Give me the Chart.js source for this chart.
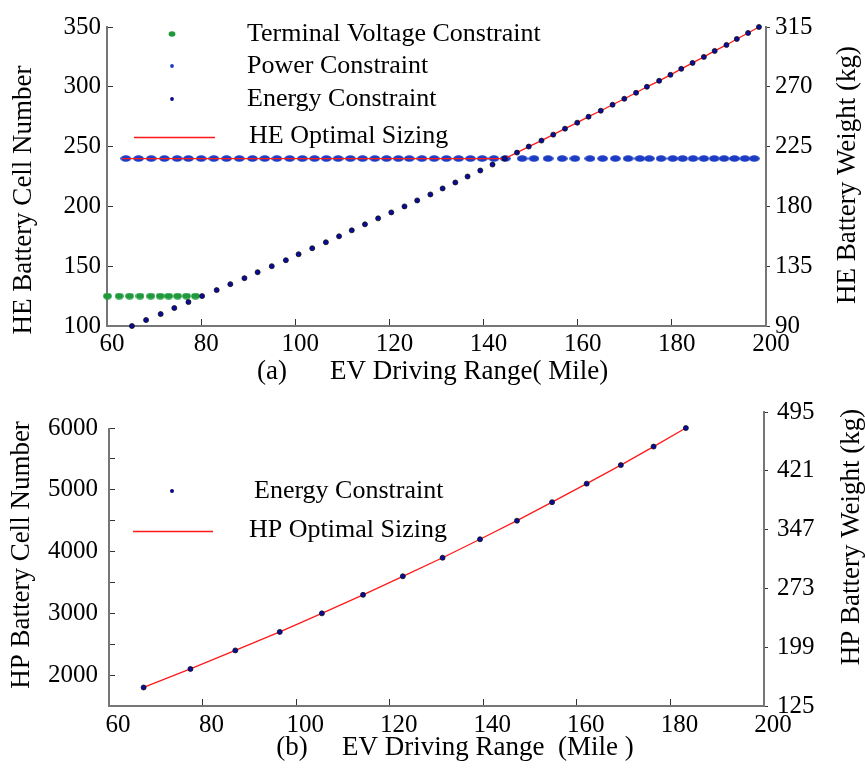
<!DOCTYPE html>
<html>
<head>
<meta charset="utf-8">
<script src="https://cdn.jsdelivr.net/npm/chart.js@4.4.1/dist/chart.umd.min.js"></script>
<style>
  html, body { margin: 0; padding: 0; background: #fff; }
  #wrap { position: relative; width: 865px; height: 770px; }
  canvas { position: absolute; left: 0; }
  #heChart { top: 0; }
  #hpChart { top: 380px; }
</style>
</head>
<body>
<div id="wrap">
  <canvas id="heChart" width="865" height="390"></canvas>
  <canvas id="hpChart" width="865" height="390"></canvas>
</div>
<script>
// ---- (a) HE battery ----
const heVoltageRange = [60.1, 62.6, 64.8, 67.0, 69.3, 71.3, 73.1, 75.0, 76.9, 78.8];
const heVoltageCells = [125, 125, 125, 125, 125, 125, 125, 125, 125, 125];

const hePowerRange = [64.0, 66.7, 69.4, 72.2, 74.9, 77.3, 80.0, 82.7, 85.4, 88.1,
  90.9, 93.5, 96.1, 98.8, 101.5, 104.1, 106.6, 109.1, 111.7, 114.3,
  116.9, 119.4, 121.9, 124.2, 126.9, 129.5, 132.1, 134.7, 137.2, 139.7,
  142.2, 144.6, 148.2, 150.7, 153.7, 156.7, 159.4, 162.6, 165.3, 168.0,
  170.7, 173.2, 175.2, 177.7, 180.2, 182.3, 184.5, 186.8, 189.0, 191.1,
  193.3, 195.5, 197.5];
const hePowerCells = [240, 240, 240, 240, 240, 240, 240, 240, 240, 240,
  240, 240, 240, 240, 240, 240, 240, 240, 240, 240,
  240, 240, 240, 240, 240, 240, 240, 240, 240, 240,
  240, 240, 240, 240, 240, 240, 240, 240, 240, 240,
  240, 240, 240, 240, 240, 240, 240, 240, 240, 240,
  240, 240, 240];

const heEnergyRange = [65.3, 68.3, 71.4, 74.3, 77.3, 80.2, 83.3, 86.2, 89.2, 92.0,
  95.0, 98.0, 100.7, 103.6, 106.5, 109.3, 112.0, 114.8, 117.6, 120.4,
  123.2, 125.9, 128.7, 131.3, 134.0, 136.6, 139.3, 141.9, 144.5, 147.1,
  149.6, 152.3, 154.8, 157.3, 159.9, 162.3, 164.9, 167.4, 169.9, 172.4,
  174.7, 177.3, 179.7, 182.0, 184.4, 186.8, 189.1, 191.6, 193.8, 196.2, 198.5];
const heEnergyCells = [100, 105, 110, 115, 120, 125, 130, 135, 140, 145,
  150, 155, 160, 165, 170, 175, 180, 185, 190, 195,
  200, 205, 210, 215, 220, 225, 230, 235, 240, 245,
  250, 255, 260, 265, 270, 275, 280, 285, 290, 295,
  300, 305, 310, 315, 320, 325, 330, 335, 340, 345, 350];

// optimal sizing: flat at the power limit, then follows the energy limit
const heOptimalStart = { range: 63.2, cells: 240 };

const heRangeTicks = [60, 80, 100, 120, 140, 160, 180, 200];
const heCellTicks = [100, 150, 200, 250, 300, 350];
const heWeightTicks = [90, 135, 180, 225, 270, 315];

// ---- (b) HP battery ----
const hpEnergyRange = [67.4, 77.4, 87.0, 96.5, 105.5, 114.3, 122.8, 131.3, 139.3, 147.2,
  154.7, 162.1, 169.4, 176.4, 183.3];
const hpEnergyCells = [1800, 2100, 2400, 2700, 3000, 3300, 3600, 3900, 4200, 4500,
  4800, 5100, 5400, 5700, 6000];

const hpRangeTicks = [60, 80, 100, 120, 140, 160, 180, 200];
const hpCellTicks = [2000, 2500, 3000, 3500, 4000, 4500, 5000, 5500, 6000];
const hpWeightTicks = [125, 199, 273, 347, 421, 495];

const serif = "'Liberation Serif', 'Times New Roman', serif";
Chart.defaults.font.family = serif;
Chart.defaults.color = '#000';

const AXIS_GREY = '#767676';

function pts(xs, ys) {
  return xs.map((x, i) => ({ x: x, y: ys[i] }));
}

// wide dot used by the constraint markers
function ellipseMarker(w, h, color) {
  const c = document.createElement('canvas');
  c.width = w;
  c.height = h;
  const g = c.getContext('2d');
  g.fillStyle = color;
  g.beginPath();
  g.ellipse(w / 2, h / 2, w / 2 - 0.2, h / 2 - 0.2, 0, 0, Math.PI * 2);
  g.fill();
  return c;
}

function fixedTicks(values) {
  return scale => { scale.ticks = values.map(v => ({ value: v })); };
}

function axis(opts) {
  return {
    type: 'linear',
    position: opts.position,
    min: opts.min,
    max: opts.max,
    afterBuildTicks: fixedTicks(opts.ticks),
    afterFit: scale => {
      if (opts.position === 'bottom') scale.height = opts.size;
      else scale.width = opts.size;
    },
    border: { display: opts.border !== false, color: AXIS_GREY, width: 2 },
    grid: {
      drawOnChartArea: false,
      drawTicks: true,
      tickLength: opts.tickLength,
      tickColor: '#333',
      lineWidth: 1,
    },
    ticks: {
      autoSkip: false,
      maxRotation: 0,
      padding: opts.padding,
      labelOffset: opts.labelOffset || 0,
      font: { size: 25 },
      callback: opts.format || (v => String(v)),
    },
  };
}

const decorations = {
  id: 'decorations',
  afterDraw(chart, args, opts) {
    const { ctx, chartArea: area } = chart;
    ctx.save();

    if (opts.stubAxis) {
      const y = chart.scales.y;
      ctx.strokeStyle = AXIS_GREY;
      ctx.lineWidth = 2;
      ctx.beginPath();
      ctx.moveTo(area.left, y.getPixelForValue(y.min) + 1);
      ctx.lineTo(area.left, y.getPixelForValue(opts.stubAxis));
      ctx.stroke();
    }

    // legend inside the plot
    const lg = opts.legend;
    ctx.font = lg.fontSize + 'px ' + serif;
    ctx.textBaseline = 'middle';
    ctx.textAlign = 'left';
    chart.data.datasets.forEach((ds, i) => {
      const y = area.top + lg.rows[i];
      if (ds.showLine) {
        ctx.strokeStyle = ds.borderColor;
        ctx.lineWidth = ds.borderWidth;
        ctx.beginPath();
        ctx.moveTo(area.left + lg.lineFrom, y + 1.5);
        ctx.lineTo(area.left + lg.lineTo, y + 1.5);
        ctx.stroke();
      } else {
        ctx.fillStyle = ds.legendColor;
        ctx.beginPath();
        ctx.ellipse(area.left + lg.markerX, y, ds.legendSize[0], ds.legendSize[1], 0, 0, Math.PI * 2);
        ctx.fill();
      }
      ctx.fillStyle = '#000';
      ctx.fillText(ds.label, area.left + lg.textX[i], y);
    });

    // axis titles
    ctx.font = opts.titleSize + 'px ' + serif;
    opts.titles.forEach(t => {
      ctx.save();
      ctx.translate(t.x, t.y);
      if (t.rotate) ctx.rotate(-Math.PI / 2);
      ctx.textAlign = t.align || 'center';
      ctx.textBaseline = 'middle';
      ctx.fillStyle = '#000';
      ctx.fillText(t.text, 0, 0);
      ctx.restore();
    });
    ctx.restore();
  },
};

const energyPoint = {
  pointRadius: 2.5,
  pointBackgroundColor: '#0a0a9c',
  pointBorderColor: '#111',
  pointBorderWidth: 0.8,
};

// ---- chart (a) ----
const heOptimal = [{ x: heOptimalStart.range, y: heOptimalStart.cells }]
  .concat(pts(heEnergyRange, heEnergyCells).filter(p => p.y >= heOptimalStart.cells));

new Chart(document.getElementById('heChart'), {
  type: 'scatter',
  data: {
    datasets: [
      {
        label: 'Terminal Voltage Constraint',
        data: pts(heVoltageRange, heVoltageCells),
        pointStyle: ellipseMarker(9, 7, '#1e9a3c'),
        pointRadius: 3,
        legendColor: '#1e9a3c',
        legendSize: [3.4, 2.8],
        clip: false,
        order: 2,
      },
      {
        label: 'Power Constraint',
        data: pts(hePowerRange, hePowerCells),
        pointStyle: ellipseMarker(11, 7, '#1c3cc4'),
        pointRadius: 3,
        legendColor: '#1c3cc4',
        legendSize: [1.9, 1.9],
        clip: false,
        order: 3,
      },
      Object.assign({
        label: 'Energy Constraint',
        data: pts(heEnergyRange, heEnergyCells),
        legendColor: '#0a0a80',
        legendSize: [1.9, 1.9],
        clip: false,
        order: 0,
      }, energyPoint),
      {
        label: 'HE Optimal Sizing',
        data: heOptimal,
        showLine: true,
        borderColor: '#ff1a1a',
        borderWidth: 1.3,
        pointRadius: 0,
        clip: false,
        order: 1,
      },
    ],
  },
  options: {
    responsive: false,
    animation: false,
    events: [],
    layout: { padding: { top: 16, left: 0, right: 0, bottom: 0 } },
    scales: {
      x: axis({ position: 'bottom', min: 60, max: 200, ticks: heRangeTicks, size: 64,
        tickLength: -7, padding: 10, labelOffset: 5 }),
      y: axis({ position: 'left', min: 100, max: 350, ticks: heCellTicks, size: 107,
        tickLength: -6, padding: 12 }),
      yWeight: axis({ position: 'right', min: 90, max: 315, ticks: heWeightTicks, size: 99,
        tickLength: 4, padding: 5 }),
    },
    plugins: {
      legend: { display: false },
      tooltip: { enabled: false },
      decorations: {
        legend: { fontSize: 26, markerX: 65, lineFrom: 27, lineTo: 108,
          rows: [7, 39, 72, 109], textX: [140, 140, 140, 142] },
        titleSize: 27,
        titles: [
          { text: 'HE Battery Cell Number', x: 24, y: 200, rotate: true },
          { text: 'HE Battery Weight (kg)', x: 848, y: 175, rotate: true },
          { text: '(a)', x: 272, y: 372 },
          { text: 'EV Driving Range( Mile)', x: 330, y: 372, align: 'left' },
        ],
      },
    },
  },
  plugins: [decorations],
});

// ---- chart (b) ----
new Chart(document.getElementById('hpChart'), {
  type: 'scatter',
  data: {
    datasets: [
      Object.assign({
        label: 'Energy Constraint',
        data: pts(hpEnergyRange, hpEnergyCells),
        legendColor: '#0a0a80',
        legendSize: [2, 2],
        clip: false,
        order: 0,
      }, energyPoint),
      {
        label: 'HP Optimal Sizing',
        data: pts(hpEnergyRange, hpEnergyCells),
        showLine: true,
        borderColor: '#ff1a1a',
        borderWidth: 1.3,
        pointRadius: 0,
        clip: false,
        order: 1,
      },
    ],
  },
  options: {
    responsive: false,
    animation: false,
    events: [],
    layout: { padding: { top: 16, left: 0, right: 0, bottom: 0 } },
    scales: {
      x: axis({ position: 'bottom', min: 60, max: 200, ticks: hpRangeTicks, size: 64,
        tickLength: -7, padding: 11, labelOffset: 9 }),
      y: axis({ position: 'left', min: 1500, max: 6260, ticks: hpCellTicks, size: 109,
        tickLength: -6, padding: 17, border: false,
        format: v => (v % 1000 === 0 ? String(v) : '') }),
      yWeight: axis({ position: 'right', min: 125, max: 495, ticks: hpWeightTicks, size: 101,
        tickLength: 4, padding: 9 }),
    },
    plugins: {
      legend: { display: false },
      tooltip: { enabled: false },
      decorations: {
        stubAxis: 6000,
        legend: { fontSize: 26, markerX: 63, lineFrom: 24, lineTo: 104,
          rows: [79, 118], textX: [145, 140] },
        titleSize: 27,
        titles: [
          { text: 'HP Battery Cell Number', x: 22, y: 175, rotate: true },
          { text: 'HP Battery Weight (kg)', x: 852, y: 157, rotate: true },
          { text: '(b)', x: 292, y: 368 },
          { text: 'EV Driving Range  (Mile )', x: 342, y: 368, align: 'left' },
        ],
      },
    },
  },
  plugins: [decorations],
});
</script>
</body>
</html>
